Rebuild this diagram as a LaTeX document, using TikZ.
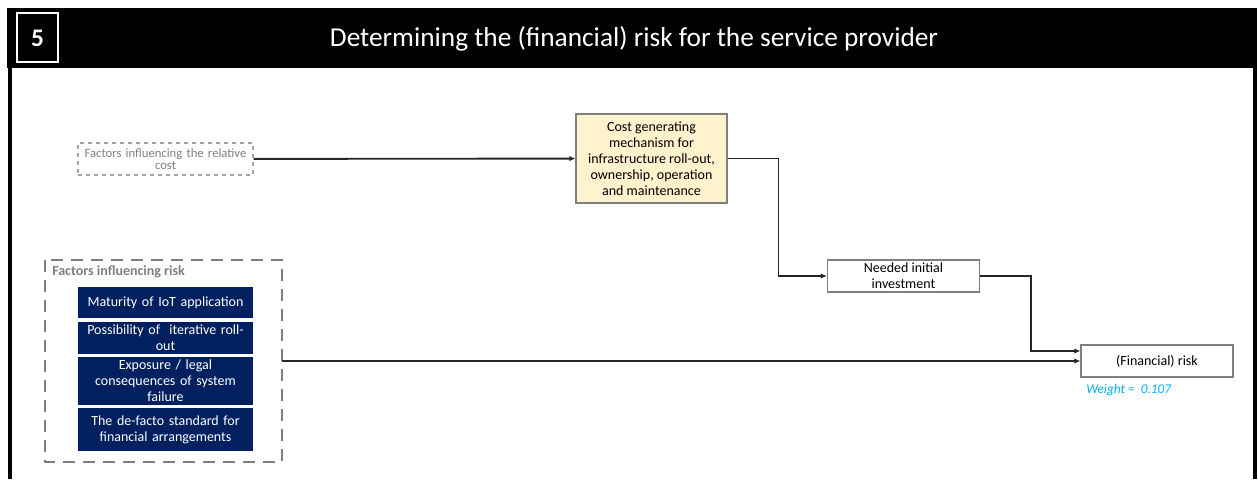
\documentclass[tikz,border=0pt]{standalone}
\usepackage{fontspec}
\setmainfont{Carlito}
\usepackage{tikz}
\usetikzlibrary{arrows.meta,positioning,calc}
\definecolor{navy}{HTML}{002060}
\definecolor{peach}{HTML}{FFF2CC}
\definecolor{framegray}{HTML}{7F7F7F}
\definecolor{weightblue}{HTML}{00B0F0}
\definecolor{linkgray}{HTML}{262626}

\begin{document}
\begin{tikzpicture}[x=0.75pt, y=-0.75pt,
  every node/.style={font=\fontsize{10.5}{12}\selectfont, inner sep=0pt},
  plainbox/.style={draw=framegray, line width=0.8pt, align=center},
  riskitem/.style={fill=navy, text=white, align=center, minimum width=131.25pt, text width=128pt},
  link/.style={draw=linkgray, line width=1.4pt, -{Latex[length=4.5pt,width=4pt]}}]
  \useasboundingbox (0,0) rectangle (1258,479);

  % header band and frame
  \fill[black] (7,8) rectangle (1257,68);
  \draw[line width=3pt] (10,68) -- (10,479);
  \draw[line width=3pt] (1255,68) -- (1255,479);
  \draw[white, line width=1.5pt] (17,13) rectangle (58,62);
  \node[text=white, font=\fontsize{19}{20}\selectfont\bfseries] (num) at (37.5,38) {5};
  \node[text=white, font=\fontsize{20.5}{22}\selectfont] (title) at (634,39) {Determining the (financial) risk for the service provider};

  % top row: relative cost and cost mechanism
  \node[plainbox, dashed, draw=framegray!70, text=framegray, font=\fontsize{9.5}{9}\selectfont,
    minimum width=131.25pt, minimum height=24pt, text width=130pt] (relcost) at (165.5,159)
    {Factors influencing the relative\\cost};
  \node[plainbox, fill=peach, minimum width=113.25pt, minimum height=66.75pt] (cost) at (651.5,158.5)
    {Cost generating\\mechanism for\\infrastructure roll-out,\\ownership, operation\\and maintenance};
  \node[plainbox, minimum width=114pt, minimum height=24pt] (need) at (903.5,276)
    {Needed initial\\investment};
  \node[plainbox, minimum width=114pt, minimum height=24pt] (risk) at (1157,361) {(Financial) risk};
  \node[anchor=west, text=weightblue, font=\fontsize{10}{10}\selectfont\itshape] (weight) at (1086,390)
    {Weight =\ \ 0.107};

  % factors influencing risk
  \draw[framegray, line width=2.2pt, dash pattern=on 9pt off 6pt] (45,260) rectangle (282,462);
  \coordinate (riskgroup) at (282,361);
  \node[anchor=west, text=framegray, font=\fontsize{10.5}{12}\selectfont\bfseries] (grouptitle) at (52,272)
    {Factors influencing risk};
  \node[riskitem, minimum height=23.25pt] (f1) at (165.5,302.5) {Maturity of IoT application};
  \node[riskitem, minimum height=24pt] (f2) at (165.5,337.5) {Possibility of\ \ iterative roll-\\out};
  \node[riskitem, minimum height=36pt] (f3) at (165.5,381) {Exposure / legal\\consequences of system\\failure};
  \node[riskitem, minimum height=32.25pt] (f4) at (165.5,429.5) {The de-facto standard for\\financial arrangements};

  % connectors
  \draw[link] (relcost) -- (cost);
  \draw[link] (cost.east) -- ++(51,0) |- (need.west);
  \draw[link] (need.east) -- ++(51,0) |- ($(risk.west)+(0,-10)$);
  \draw[link] (riskgroup) -- (risk.west);
\end{tikzpicture}
\end{document}
